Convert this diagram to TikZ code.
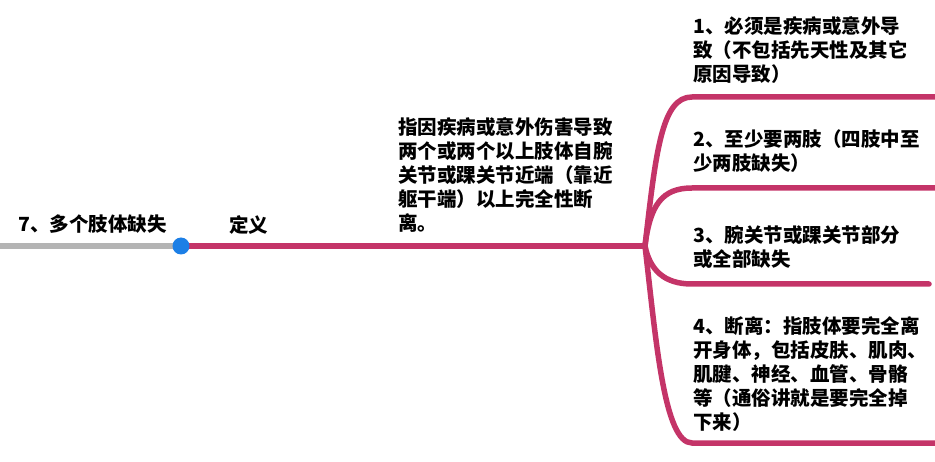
\documentclass[tikz,border=0pt]{standalone}
\usepackage{fontspec}
\setmainfont{Noto Sans CJK SC}
\usepackage{tikz}
\usetikzlibrary{positioning}
\definecolor{mappink}{RGB}{196,52,104}
\definecolor{mapgray}{RGB}{180,180,180}
\definecolor{mapblue}{RGB}{28,127,230}

\begin{document}
\begin{tikzpicture}[x=1pt,y=-1pt]
	\tikzstyle{txt}=[inner sep=0pt, align=left, anchor=north west, font=\bfseries\fontsize{19.5}{24}\selectfont]
	\tikzstyle{stem}=[line width=5.5pt, line cap=round]
	\tikzstyle{branch}=[stem, draw=mappink]
	\useasboundingbox (0,0) rectangle (935,462);
	\coordinate (start) at (0,246);
	\coordinate (hub) at (181,246);
	\coordinate (fork) at (645,246);
	\node[txt] (title) at (18,215) {7、多个肢体缺失};
	\node[txt] (def) at (229,215) {定义};
	\node[txt] (deftext) at (398,117) {指因疾病或意外伤害导致\\两个或两个以上肢体自腕\\关节或踝关节近端（靠近\\躯干端）以上完全性断\\离。};
	\node[txt] (b1) at (693,16) {1、必须是疾病或意外导\\致（不包括先天性及其它\\原因导致）};
	\node[txt] (b2) at (693,129) {2、至少要两肢（四肢中至\\少两肢缺失）};
	\node[txt] (b3) at (693,225) {3、腕关节或踝关节部分\\或全部缺失};
	\node[txt] (b4) at (693,316) {4、断离：指肢体要完全离\\开身体，包括皮肤、肌肉、\\肌腱、神经、血管、骨骼\\等（通俗讲就是要完全掉\\下来）};
	\coordinate (e1) at (940,97);
	\coordinate (e2) at (940,188);
	\coordinate (e3) at (929,284);
	\coordinate (e4) at (940,443);
	\draw[stem, draw=mapgray, line cap=butt] (start) -- (hub);
	\draw[branch] (hub) -- (fork);
	\draw[branch] (fork) .. controls (656,150) and (662,97) .. (692,97) -- (e1);
	\draw[branch] (fork) .. controls (650,205) and (662,188) .. (692,188) -- (e2);
	\draw[branch] (fork) .. controls (650,270) and (664,284) .. (692,284) -- (e3);
	\draw[branch] (fork) .. controls (656,340) and (664,443) .. (692,443) -- (e4);
	\node[circle, fill=mapblue, minimum size=17pt, inner sep=0pt] (dot) at (hub) {};
\end{tikzpicture}
\end{document}
